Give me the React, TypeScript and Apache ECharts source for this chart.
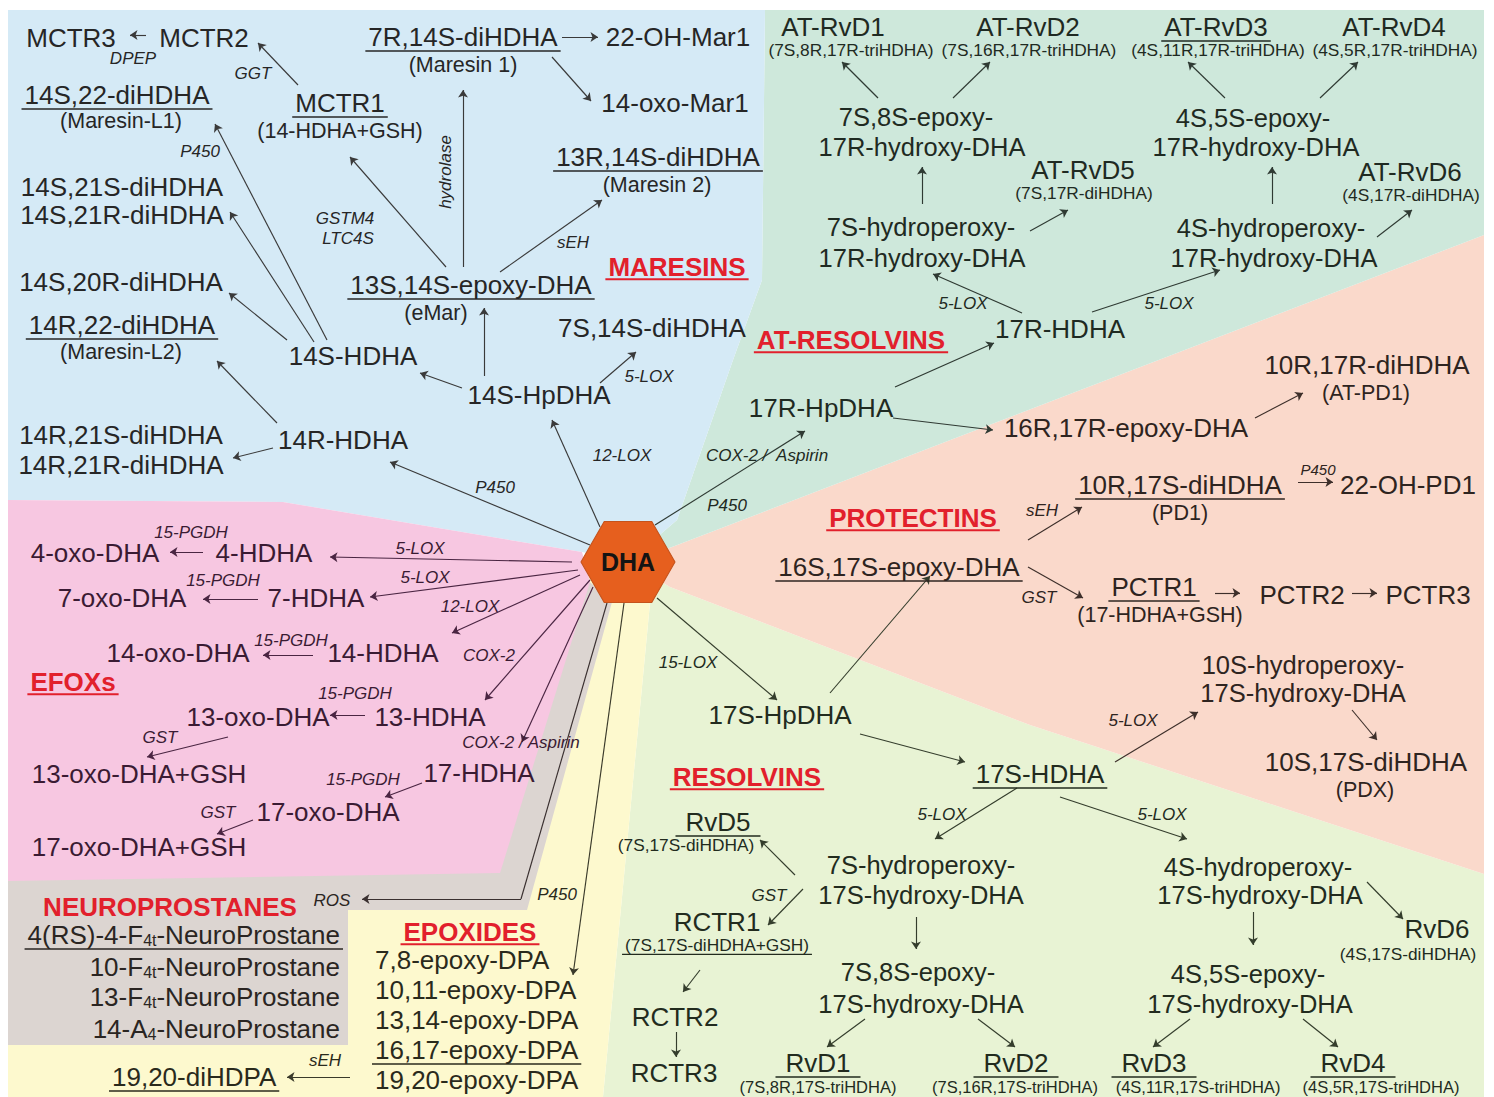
import { useEffect, useRef } from 'react';
import * as echarts from 'echarts';

type Node = [string, number, number, string, string?];
type Arrow = [number, number, number, number];
type Region = [string, string, number[][]];

const FONT = '"Liberation Sans", Arial, Helvetica, sans-serif';
const RED = '#e2202c';
const AXIS_X_MAX = 1494;
const AXIS_Y_MAX = 1097;

// ---------- background regions (diagram coordinates) ----------
const regions: Region[] = [
  ['RESOLVINS', '#e8f3d4', [[603, 1097], [1484, 1097], [1484, 874], [1030, 725], [670, 587], [628, 562], [650, 603]]],
  ['PROTECTINS', '#fad9cb', [[672, 547], [1484, 235], [1484, 874], [1030, 725], [670, 587], [628, 562]]],
  ['AT-RESOLVINS', '#cee8db', [[765, 10], [1484, 10], [1484, 235], [672, 547], [628, 562], [677, 520], [733, 360], [762, 280]]],
  ['MARESINS', '#d5eaf6', [[8, 10], [765, 10], [762, 280], [733, 360], [677, 520], [628, 562], [582, 552], [283, 502], [8, 500]]],
  ['EPOXIDES', '#fdf9ce', [[8, 881], [8, 1097], [603, 1097], [650, 603], [582, 575]]],
  ['NEUROPROSTANES', '#dcd5d1', [[8, 881], [8, 1045], [348, 1045], [348, 910], [527, 910], [612, 602], [582, 575]]],
  ['EFOXs', '#f7c7e1', [[8, 500], [283, 502], [582, 552], [590, 582], [500, 873], [8, 881]]],
];

// ---------- DHA hub ----------
const dhaNode: [string, number, number] = ['DHA', 628, 562];

// ---------- node labels: [text, x, y, kind, flags] ----------
const maresinNodes: Node[] = [
  ['MCTR3', 71, 38, 'M'], ['MCTR2', 204, 38, 'M'], ['DPEP', 133, 58, 'E'], ['GGT', 253, 73, 'E'],
  ['MCTR1', 340, 103, 'M', 'u'], ['(14-HDHA+GSH)', 340, 131, 'P'],
  ['14S,22-diHDHA', 117, 95, 'M', 'u'], ['(Maresin-L1)', 121, 121, 'P'], ['P450', 200, 151, 'E'],
  ['hydrolase', 445, 172, 'E', 'v'],
  ['14S,21S-diHDHA', 122, 187, 'M'], ['14S,21R-diHDHA', 122, 215, 'M'],
  ['GSTM4', 345, 218, 'E'], ['LTC4S', 348, 238, 'E'],
  ['14S,20R-diHDHA', 121, 282, 'M'], ['14R,22-diHDHA', 122, 325, 'M', 'u'], ['(Maresin-L2)', 121, 352, 'P'],
  ['14S-HDHA', 353, 356, 'M'], ['14R,21S-diHDHA', 121, 435, 'M'], ['14R,21R-diHDHA', 121, 465, 'M'],
  ['14R-HDHA', 343, 440, 'M'],
  ['7R,14S-diHDHA', 463, 37, 'M', 'u'], ['(Maresin 1)', 463, 65, 'P'], ['22-OH-Mar1', 678, 37, 'M'],
  ['14-oxo-Mar1', 675, 103, 'M'], ['13R,14S-diHDHA', 658, 157, 'M', 'u'], ['(Maresin 2)', 657, 185, 'P'],
  ['sEH', 573, 242, 'E'], ['13S,14S-epoxy-DHA', 471, 285, 'M', 'u'], ['(eMar)', 436, 313, 'P'],
  ['7S,14S-diHDHA', 652, 328, 'M'], ['5-LOX', 649, 376, 'E'], ['14S-HpDHA', 539, 395, 'M'],
  ['12-LOX', 622, 455, 'E'], ['P450', 495, 487, 'E'],
  ['MARESINS', 677, 267, 'T', 'u'],
];

const atResolvinNodes: Node[] = [
  ['AT-RvD1', 833, 27, 'M'], ['(7S,8R,17R-triHDHA)', 851, 50, 'S'],
  ['AT-RvD2', 1028, 27, 'M'], ['(7S,16R,17R-triHDHA)', 1029, 50, 'S'],
  ['AT-RvD3', 1216, 27, 'M', 'u'], ['(4S,11R,17R-triHDHA)', 1218, 50, 'S'],
  ['AT-RvD4', 1394, 27, 'M'], ['(4S,5R,17R-triHDHA)', 1395, 50, 'S'],
  ['7S,8S-epoxy-', 916, 117, 'H'], ['17R-hydroxy-DHA', 922, 147, 'H'],
  ['4S,5S-epoxy-', 1253, 118, 'H'], ['17R-hydroxy-DHA', 1256, 147, 'H'],
  ['AT-RvD5', 1083, 170, 'M'], ['(7S,17R-diHDHA)', 1084, 193, 'S'],
  ['AT-RvD6', 1410, 172, 'M'], ['(4S,17R-diHDHA)', 1411, 195, 'S'],
  ['7S-hydroperoxy-', 921, 227, 'H'], ['17R-hydroxy-DHA', 922, 258, 'H'],
  ['4S-hydroperoxy-', 1271, 228, 'H'], ['17R-hydroxy-DHA', 1274, 258, 'H'],
  ['5-LOX', 963, 303, 'E'], ['5-LOX', 1169, 303, 'E'],
  ['17R-HDHA', 1060, 329, 'M'], ['17R-HpDHA', 821, 408, 'M'],
  ['COX-2 /  Aspirin', 767, 455, 'E'], ['P450', 727, 505, 'E'],
  ['AT-RESOLVINS', 851, 340, 'T', 'u'],
];

const protectinNodes: Node[] = [
  ['10R,17R-diHDHA', 1367, 365, 'M'], ['(AT-PD1)', 1366, 393, 'P'],
  ['16R,17R-epoxy-DHA', 1126, 428, 'M'],
  ['P450', 1318, 469, 'e'], ['22-OH-PD1', 1408, 485, 'M'],
  ['10R,17S-diHDHA', 1180, 485, 'M', 'u'], ['(PD1)', 1180, 513, 'P'], ['sEH', 1042, 510, 'E'],
  ['16S,17S-epoxy-DHA', 899, 567, 'M', 'u'], ['GST', 1039, 597, 'E'],
  ['PCTR1', 1154, 587, 'M', 'u'], ['(17-HDHA+GSH)', 1160, 615, 'P'],
  ['PCTR2', 1302, 595, 'M'], ['PCTR3', 1428, 595, 'M'],
  ['10S-hydroperoxy-', 1303, 665, 'H'], ['17S-hydroxy-DHA', 1303, 693, 'H'], ['5-LOX', 1133, 720, 'E'],
  ['10S,17S-diHDHA', 1366, 762, 'M'], ['(PDX)', 1365, 790, 'P'],
  ['PROTECTINS', 913, 518, 'T', 'u'],
];

const resolvinNodes: Node[] = [
  ['15-LOX', 688, 662, 'E'], ['17S-HpDHA', 780, 715, 'M'], ['17S-HDHA', 1040, 774, 'M', 'u'],
  ['5-LOX', 942, 814, 'E'], ['5-LOX', 1162, 814, 'E'],
  ['RvD5', 718, 822, 'M', 'U'], ['(7S,17S-diHDHA)', 686, 845, 'S'],
  ['7S-hydroperoxy-', 921, 865, 'H'], ['17S-hydroxy-DHA', 921, 895, 'H'],
  ['4S-hydroperoxy-', 1258, 867, 'H'], ['17S-hydroxy-DHA', 1260, 895, 'H'],
  ['GST', 769, 895, 'E'], ['RCTR1', 717, 922, 'M'], ['(7S,17S-diHDHA+GSH)', 717, 945, 'S', 'u'],
  ['RCTR2', 675, 1017, 'M'], ['RCTR3', 674, 1073, 'M'],
  ['7S,8S-epoxy-', 918, 972, 'H'], ['17S-hydroxy-DHA', 921, 1004, 'H'],
  ['4S,5S-epoxy-', 1248, 974, 'H'], ['17S-hydroxy-DHA', 1250, 1004, 'H'],
  ['RvD6', 1437, 929, 'M'], ['(4S,17S-diHDHA)', 1408, 954, 'S'],
  ['RvD1', 818, 1063, 'M', 'U'], ['(7S,8R,17S-triHDHA)', 818, 1087, 's'],
  ['RvD2', 1016, 1063, 'M', 'U'], ['(7S,16R,17S-triHDHA)', 1015, 1087, 's'],
  ['RvD3', 1154, 1063, 'M', 'U'], ['(4S,11R,17S-triHDHA)', 1198, 1087, 's'],
  ['RvD4', 1353, 1063, 'M', 'U'], ['(4S,5R,17S-triHDHA)', 1381, 1087, 's'],
  ['RESOLVINS', 747, 777, 'T', 'u'],
];

const efoxNodes: Node[] = [
  ['15-PGDH', 191, 532, 'E'], ['4-oxo-DHA', 95, 553, 'M'], ['4-HDHA', 264, 553, 'M'], ['5-LOX', 420, 548, 'E'],
  ['15-PGDH', 223, 580, 'E'], ['7-oxo-DHA', 122, 598, 'M'], ['7-HDHA', 316, 598, 'M'], ['5-LOX', 425, 577, 'E'],
  ['12-LOX', 470, 606, 'E'],
  ['14-oxo-DHA', 178, 653, 'M'], ['15-PGDH', 291, 640, 'E'], ['14-HDHA', 383, 653, 'M'], ['COX-2', 489, 655, 'E'],
  ['15-PGDH', 355, 693, 'E'], ['13-oxo-DHA', 258, 717, 'M'], ['13-HDHA', 430, 717, 'M'],
  ['GST', 160, 737, 'E'], ['13-oxo-DHA+GSH', 139, 774, 'M'],
  ['COX-2 / Aspirin', 521, 742, 'E'], ['17-HDHA', 479, 773, 'M'], ['15-PGDH', 363, 779, 'E'],
  ['17-oxo-DHA', 328, 812, 'M'], ['GST', 218, 812, 'E'], ['17-oxo-DHA+GSH', 139, 847, 'M'],
  ['EFOXs', 73, 682, 'T', 'u'],
];

const neuroNodes: Node[] = [
  ['ROS', 332, 900, 'E'],
  ['4(RS)-4-F{4t}-NeuroProstane', 340, 935, 'M', 'ru'],
  ['10-F{4t}-NeuroProstane', 340, 967, 'M', 'r'],
  ['13-F{4t}-NeuroProstane', 340, 997, 'M', 'r'],
  ['14-A{4}-NeuroProstane', 340, 1029, 'M', 'r'],
  ['NEUROPROSTANES', 170, 907, 'T'],
];

const epoxideNodes: Node[] = [
  ['P450', 557, 894, 'E'],
  ['7,8-epoxy-DPA', 375, 960, 'M', 'l'], ['10,11-epoxy-DPA', 375, 990, 'M', 'l'],
  ['13,14-epoxy-DPA', 375, 1020, 'M', 'l'], ['16,17-epoxy-DPA', 375, 1050, 'M', 'lu'],
  ['19,20-epoxy-DPA', 375, 1080, 'M', 'l'],
  ['sEH', 325, 1060, 'E'], ['19,20-diHDPA', 112, 1077, 'M', 'lu'],
  ['EPOXIDES', 470, 932, 'T', 'u'],
];

// ---------- arrows: [x1, y1, x2, y2] ----------
const maresinArrows: Arrow[] = [
  [146, 35, 130, 35], [298, 85, 258, 43],
  [327, 340, 215, 124], [314, 342, 230, 212], [287, 340, 229, 293],
  [277, 423, 217, 361], [273, 448, 233, 458],
  [590, 545, 390, 462], [600, 527, 552, 420],
  [462, 388, 420, 373], [484, 376, 484, 308], [600, 383, 636, 352],
  [446, 267, 350, 157], [463, 267, 463, 90], [500, 272, 602, 200],
  [562, 37, 598, 37], [552, 57, 591, 101],
];

const atResolvinArrows: Arrow[] = [
  [878, 98, 842, 62], [953, 98, 990, 62], [1225, 98, 1188, 62], [1320, 98, 1358, 62],
  [922, 204, 922, 167], [1272, 204, 1272, 167],
  [1030, 231, 1068, 210], [1377, 237, 1412, 210],
  [1022, 313, 933, 274], [1092, 312, 1220, 270],
  [895, 387, 994, 343], [655, 525, 805, 431], [893, 418, 993, 430],
];

const protectinArrows: Arrow[] = [
  [1255, 418, 1303, 393], [1298, 482, 1333, 482],
  [1028, 540, 1082, 507], [1028, 567, 1083, 598],
  [1215, 593, 1240, 593], [1352, 593, 1377, 593],
  [1115, 762, 1198, 712], [1352, 710, 1377, 740],
];

const resolvinArrows: Arrow[] = [
  [657, 598, 777, 700], [830, 693, 930, 576], [860, 734, 965, 762],
  [1017, 788, 935, 839], [1060, 797, 1187, 839],
  [795, 875, 760, 840], [803, 889, 768, 925], [700, 970, 683, 992], [676, 1032, 676, 1057],
  [916, 917, 916, 949], [865, 1019, 827, 1047], [978, 1019, 1015, 1047],
  [1253, 912, 1253, 945], [1367, 882, 1403, 919],
  [1190, 1019, 1153, 1047], [1303, 1019, 1338, 1047],
];

const efoxArrows: Arrow[] = [
  [572, 562, 330, 557], [578, 570, 370, 597], [580, 575, 452, 633],
  [590, 580, 485, 700], [593, 587, 522, 742],
  [203, 552, 170, 552], [258, 599, 203, 599], [313, 655, 263, 655], [365, 715, 330, 715],
  [228, 737, 147, 757], [422, 783, 385, 797], [253, 820, 217, 834],
];

const epoxideArrows: Arrow[] = [
  [624, 603, 573, 975], [350, 1077, 287, 1077],
];

const rosPath: number[][] = [[607, 603], [521, 899], [362, 899]];

// ---------- helpers ----------
const KIND: Record<string, { size: number; style: string; weight: string }> = {
  M: { size: 26, style: 'normal', weight: 'normal' },
  H: { size: 25.5, style: 'normal', weight: 'normal' },
  P: { size: 21.5, style: 'normal', weight: 'normal' },
  S: { size: 17.3, style: 'normal', weight: 'normal' },
  s: { size: 16.5, style: 'normal', weight: 'normal' },
  E: { size: 17, style: 'italic', weight: 'normal' },
  e: { size: 15, style: 'italic', weight: 'normal' },
  T: { size: 26, style: 'normal', weight: 'bold' },
};
const SUB_SIZE = 16;

let ctx: CanvasRenderingContext2D | null = null;
function measure(text: string, size: number, style: string, weight: string) {
  if (!ctx) ctx = document.createElement('canvas').getContext('2d');
  if (!ctx) return text.length * size * 0.55;
  ctx.font = `${style} ${weight} ${size}px ${FONT}`;
  return ctx.measureText(text).width;
}
function labelWidth(label: string, k: { size: number; style: string; weight: string }) {
  let w = 0;
  label.split(/(\{[^}]*\})/).forEach((part) => {
    if (!part) return;
    if (part.startsWith('{')) w += measure(part.slice(1, -1), SUB_SIZE, k.style, k.weight);
    else w += measure(part, k.size, k.style, k.weight);
  });
  return w;
}

function textSeries(name: string, nodes: Node[], color: string) {
  return {
    type: 'custom',
    name,
    coordinateSystem: 'cartesian2d',
    clip: false,
    silent: true,
    z: 5,
    data: nodes.map((n) => [n[1], n[2]]),
    renderItem: (params: any, api: any) => {
      const [label, x, y, kind, flags = ''] = nodes[params.dataIndex];
      const k = KIND[kind];
      const p = api.coord([x, y]);
      const isTitle = kind === 'T';
      const fill = isTitle ? RED : color;
      const align = flags.includes('l') ? 'left' : flags.includes('r') ? 'right' : 'center';
      const hasSub = label.includes('{');
      const text = hasSub ? label.replace(/\{([^}]*)\}/g, '{s|$1}') : label;
      const children: any[] = [
        {
          type: 'text',
          x: p[0],
          y: p[1],
          rotation: flags.includes('v') ? Math.PI / 2 : 0,
          style: {
            text,
            fill,
            fontFamily: FONT,
            fontSize: k.size,
            fontStyle: k.style,
            fontWeight: k.weight,
            align,
            verticalAlign: 'middle',
            rich: hasSub
              ? { s: { fontSize: SUB_SIZE, fontFamily: FONT, fill, verticalAlign: 'bottom', lineHeight: 18 } }
              : undefined,
          },
        },
      ];
      if (flags.includes('u') || flags.includes('U')) {
        const w = labelWidth(label, k);
        const pad = flags.includes('U') ? 10 : 3;
        const left = align === 'left' ? p[0] : align === 'right' ? p[0] - w : p[0] - w / 2;
        const uy = p[1] + k.size * (isTitle ? 0.47 : 0.54);
        children.push({
          type: 'line',
          shape: { x1: left - pad, y1: uy, x2: left + w + pad, y2: uy },
          style: { stroke: fill, lineWidth: isTitle ? 2 : 1.4 },
        });
      }
      return { type: 'group', children };
    },
  };
}

function arrowSeries(name: string, arrows: Arrow[], color: string, withHead = true) {
  return {
    type: 'lines',
    name,
    coordinateSystem: 'cartesian2d',
    silent: true,
    z: 3,
    symbol: withHead ? ['none', 'arrow'] : ['none', 'none'],
    symbolSize: 7.5,
    lineStyle: { color, width: 1.15, opacity: 1, curveness: 0 },
    data: arrows.map((a) => ({ coords: [[a[0], a[1]], [a[2], a[3]]] })),
  };
}

function buildOption() {
  const LINE = '#3a3a3a';
  return {
    animation: false,
    backgroundColor: '#ffffff',
    grid: { left: 0, right: 0, top: 0, bottom: 0 },
    xAxis: { type: 'value', min: 0, max: AXIS_X_MAX, show: false },
    yAxis: { type: 'value', min: 0, max: AXIS_Y_MAX, inverse: true, show: false },
    series: [
      {
        type: 'custom',
        name: 'regions',
        coordinateSystem: 'cartesian2d',
        clip: false,
        silent: true,
        z: 1,
        data: regions.map((r) => r[2][0]),
        renderItem: (params: any, api: any) => {
          const r = regions[params.dataIndex];
          return {
            type: 'polygon',
            shape: { points: r[2].map((pt) => api.coord(pt)) },
            style: { fill: r[1] },
          };
        },
      },
      arrowSeries('maresin-arrows', maresinArrows, LINE),
      arrowSeries('at-resolvin-arrows', atResolvinArrows, '#2f3a33'),
      arrowSeries('protectin-arrows', protectinArrows, '#3d2f2a'),
      arrowSeries('resolvin-arrows', resolvinArrows, '#343d2c'),
      arrowSeries('efox-arrows', efoxArrows, '#4a2542'),
      arrowSeries('epoxide-arrows', epoxideArrows, '#3a3a2a'),
      arrowSeries('ros-leg', [[rosPath[0][0], rosPath[0][1], rosPath[1][0], rosPath[1][1]]], '#3a3030', false),
      arrowSeries('ros-arrow', [[rosPath[1][0], rosPath[1][1], rosPath[2][0], rosPath[2][1]]], '#3a3030'),
      textSeries('maresins', maresinNodes, '#262626'),
      textSeries('at-resolvins', atResolvinNodes, '#1f2a22'),
      textSeries('protectins', protectinNodes, '#2e2420'),
      textSeries('resolvins', resolvinNodes, '#222b1e'),
      textSeries('efox', efoxNodes, '#3a1b33'),
      textSeries('neuroprostanes', neuroNodes, '#2a2522'),
      textSeries('epoxides', epoxideNodes, '#2a2a1c'),
      {
        type: 'scatter',
        name: 'DHA',
        silent: true,
        z: 10,
        data: [[dhaNode[1], dhaNode[2]]],
        symbol: 'path://M0,40L23,0L70,0L93,40L70,80L23,80Z',
        symbolSize: [94, 81],
        itemStyle: { color: '#e65f1e', borderColor: '#c5531c', borderWidth: 1, opacity: 1 },
        label: {
          show: true,
          position: 'inside',
          formatter: dhaNode[0],
          fontFamily: FONT,
          fontSize: 25,
          fontWeight: 'bold',
          color: '#141414',
        },
      },
    ],
  };
}

export default function App() {
  const ref = useRef<HTMLDivElement>(null);
  useEffect(() => {
    document.body.style.margin = '0';
    const chart = echarts.init(ref.current as HTMLDivElement, null, { renderer: 'svg' });
    chart.setOption(buildOption() as any);
    return () => chart.dispose();
  }, []);
  return <div ref={ref} style={{ width: 1494, height: 1097 }} />;
}
